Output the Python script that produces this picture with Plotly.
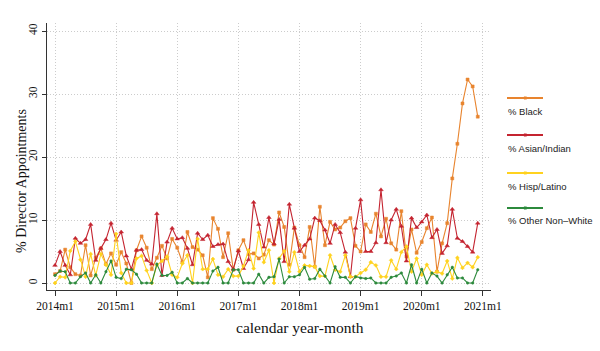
import plotly.graph_objects as go

years = list(range(2014, 2021))
months = [f"{y}m{m}" for y in years for m in range(1, 13)]
tick_labels = ["2014m1", "2015m1", "2016m1", "2017m1", "2018m1", "2019m1", "2020m1", "2021m1"]

black = [1.4, 1.9, 5.3, 2.5, 1.4, 1.2, 6.0, 1.2, 4.0, 5.5, 3.0, 4.7,
         2.9, 4.9, 3.1, 0.0, 5.2, 7.4, 5.6, 2.2, 4.0, 5.9, 3.9, 7.0,
         5.6, 3.3, 8.1, 5.7, 5.3, 4.4, 0.9, 10.3, 8.6, 4.1, 7.9, 2.1,
         5.2, 6.8, 4.6, 4.7, 3.9, 4.5, 6.8, 6.1, 11.2, 8.9, 2.9, 8.8,
         6.0, 4.1, 8.9, 2.6, 12.1, 6.0, 9.7, 8.5, 8.8, 9.8, 10.3, 5.9,
         5.0, 9.3, 8.1, 11.0, 7.4, 10.2, 6.3, 5.3, 11.4, 4.2, 8.5, 4.8,
         6.5, 8.7, 10.4, 1.8, 6.3, 9.5, 16.6, 22.1, 28.5, 32.3, 31.2, 26.4]

asian = [2.8, 5.0, 2.8, 1.3, 7.1, 6.3, 6.9, 9.3, 3.6, 5.5, 6.9, 9.5,
         6.8, 8.1, 4.3, 2.2, 5.2, 5.3, 3.6, 3.0, 11.0, 1.2, 6.5, 8.7,
         7.0, 7.2, 5.5, 2.9, 7.9, 6.9, 7.6, 5.8, 6.1, 6.2, 3.4, 2.2,
         5.1, 2.3, 3.7, 12.8, 9.3, 5.7, 10.4, 6.2, 10.1, 3.4, 12.5, 8.7,
         5.0, 6.0, 7.0, 10.3, 9.9, 8.4, 6.3, 9.3, 8.0, 4.9, 1.0, 8.7,
         13.2, 5.0, 5.0, 6.4, 14.8, 6.4, 10.0, 11.7, 9.0, 3.5, 10.3, 8.8,
         9.7, 10.8, 7.2, 8.5, 4.7, 5.9, 11.7, 7.1, 6.6, 5.8, 4.9, 9.5]

hisp = [0.0, 1.0, 0.9, 5.1, 6.6, 3.7, 1.0, 4.6, 1.2, 4.6, 2.9, 1.3,
        7.8, 1.6, 0.0, 0.0, 3.9, 4.3, 2.0, 0.0, 2.8, 3.5, 4.2, 1.3,
        0.9, 3.1, 4.4, 0.0, 7.0, 2.2, 2.2, 3.8, 1.3, 1.0, 2.2, 1.1,
        1.1, 2.7, 5.2, 2.3, 8.0, 3.3, 5.2, 0.0, 3.9, 5.1, 1.8, 4.9,
        1.8, 2.8, 2.7, 2.6, 1.1, 1.1, 4.4, 2.1, 1.8, 4.4, 1.0, 1.0,
        1.6, 2.1, 3.3, 2.8, 1.0, 1.0, 3.6, 2.2, 4.9, 5.8, 1.8, 3.9,
        1.3, 2.9, 1.5, 1.8, 1.5, 3.5, 0.7, 4.0, 2.4, 3.2, 2.5, 4.1]

other = [1.2, 1.9, 1.8, 0.0, 0.0, 1.0, 1.6, 0.0, 1.3, 0.0, 1.8, 3.5,
         0.9, 0.7, 2.2, 2.1, 1.4, 0.0, 0.0, 0.0, 3.0, 1.2, 1.2, 1.7,
         0.0, 0.0, 0.7, 0.0, 0.0, 0.0, 0.0, 1.9, 2.5, 0.0, 0.0, 2.1,
         2.1, 0.0, 0.0, 0.0, 1.4, 0.0, 0.9, 1.0, 3.8, 0.0, 1.0, 1.0,
         1.3, 2.5, 0.6, 0.7, 2.2, 1.1, 0.0, 2.6, 0.9, 0.9, 0.0, 1.0,
         0.8, 0.7, 0.8, 0.0, 0.0, 0.0, 0.9, 1.1, 1.6, 0.0, 2.9, 0.0,
         2.2, 0.0, 1.6, 1.1, 0.0, 1.3, 2.5, 0.8, 0.8, 0.0, 0.0, 2.1]

series_names = ["% Black", "% Asian/Indian", "% Hisp/Latino", "% Other Non\u2013White"]
series_values = [black, asian, hisp, other]
colors = ["#E8842E", "#C42430", "#FFD21F", "#2C8A3C"]
symbols = ["square", "triangle-up", "diamond", "circle"]
msizes = [3, 4, 3, 2.5]

W, H = 600, 351
L, R, T, B = 47, 109, 23, 61
pw, ph = W - L - R, H - T - B

def px(x):
    return (x - L) / pw

def py(y):
    return (H - B - y) / ph

x_idx = list(range(len(months)))
tick_vals = [months.index(t) if t in months else len(months) for t in tick_labels]

fig = go.Figure()
for name, vals, c, s, ms in zip(series_names, series_values, colors, symbols, msizes):
    fig.add_trace(go.Scatter(
        x=x_idx, y=vals, mode="lines+markers", name=name,
        line=dict(color=c, width=1.1),
        marker=dict(symbol=s, size=ms, color=c, line=dict(color=c, width=0.5)),
        showlegend=False,
        customdata=months,
        hovertemplate="%{customdata}: %{y}<extra>" + name + "</extra>",
    ))

serif = "Liberation Serif, Times New Roman, serif"
axis_col = "#333333"
grid_col = "#cccccc"
fig.update_xaxes(
    range=[-1.57, 85.6], tickvals=tick_vals, ticktext=tick_labels,
    showgrid=True, gridcolor=grid_col, griddash="1px,2px", gridwidth=1,
    zeroline=False, showline=True, linecolor=axis_col, linewidth=1.3,
    ticks="outside", ticklen=5, tickcolor=axis_col,
    tickfont=dict(family=serif, size=11.5, color="#111"),
)
fig.update_yaxes(
    range=[-1.11, 41.27], tickvals=[0, 10, 20, 30, 40],
    showgrid=True, gridcolor=grid_col, griddash="1px,2px", gridwidth=1,
    zeroline=False, showline=True, linecolor=axis_col, linewidth=1.3,
    ticks="outside", ticklen=4, tickcolor=axis_col, tickangle=-90,
    tickfont=dict(family=serif, size=11.5, color="#111"),
)

annotations = [
    dict(text="calendar year-month", x=px(300), y=py(327), xref="paper", yref="paper",
         showarrow=False, xanchor="center", yanchor="middle",
         font=dict(family=serif, size=15.5, color="#111")),
    dict(text="% Director Appointments", x=px(21), y=py(181), xref="paper", yref="paper",
         showarrow=False, xanchor="center", yanchor="middle", textangle=-90,
         font=dict(family=serif, size=14, color="#111")),
]
shapes = []
leg_line_y = [98, 135, 173, 208]
leg_text_y = [111, 148, 187, 220]
for name, c, ly, ty in zip(series_names, colors, leg_line_y, leg_text_y):
    shapes.append(dict(type="line", xref="paper", yref="paper",
                       x0=px(507), x1=px(543), y0=py(ly), y1=py(ly),
                       line=dict(color=c, width=2)))
    shapes.append(dict(type="rect", xref="paper", yref="paper",
                       x0=px(524), x1=px(526.5), y0=py(ly + 1.2), y1=py(ly - 1.2),
                       line=dict(color=c, width=0.5), fillcolor=c))
    annotations.append(dict(text=name, x=px(506), y=py(ty), xref="paper", yref="paper",
                            showarrow=False, xanchor="left", yanchor="middle",
                            font=dict(family="Liberation Sans", size=9.5, color="#222")))

fig.update_layout(
    width=W, height=H, margin=dict(l=L, r=R, t=T, b=B),
    paper_bgcolor="white", plot_bgcolor="white",
    annotations=annotations, shapes=shapes, showlegend=False,
)
fig.write_html("out.html")
